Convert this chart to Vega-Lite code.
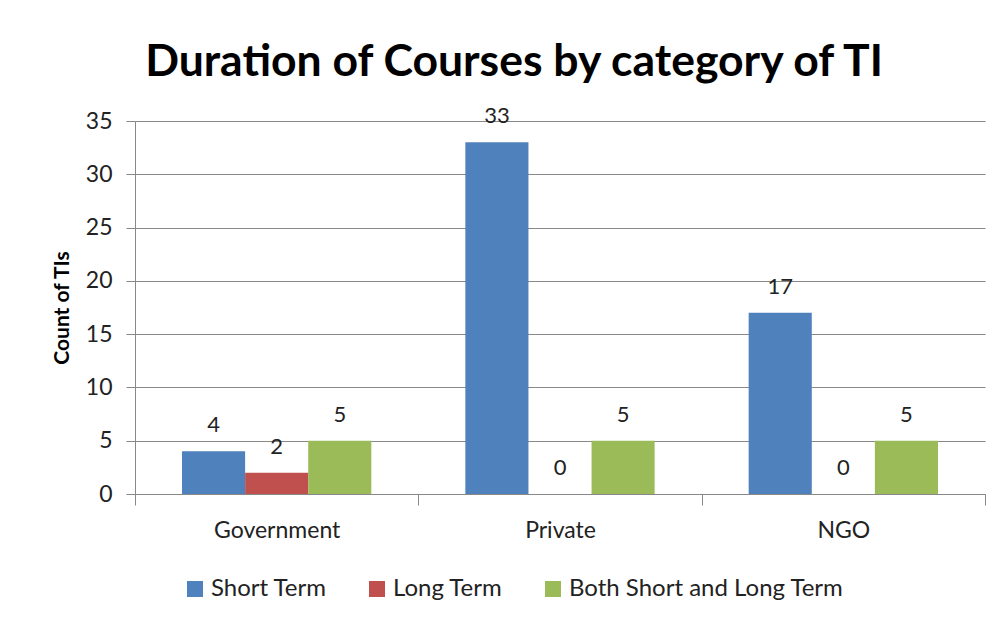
{
  "$schema": "https://vega.github.io/schema/vega-lite/v6.json",
  "autosize": {"type": "none"},
  "width": 850,
  "height": 373,
  "padding": {"left": 135, "top": 121, "right": 20, "bottom": 124},
  "background": "white",
  "title": {
    "text": "Duration of Courses by category of TI",
    "font": "Lato",
    "fontSize": 44.5,
    "fontWeight": "bold",
    "color": "#000000",
    "anchor": "middle",
    "dx": -46,
    "offset": 20
  },
  "data": {
    "values": [
      {"category": "Government", "duration": "Short Term", "count": 4},
      {"category": "Government", "duration": "Long Term", "count": 2},
      {"category": "Government", "duration": "Both Short and Long Term", "count": 5},
      {"category": "Private", "duration": "Short Term", "count": 33},
      {"category": "Private", "duration": "Long Term", "count": 0},
      {"category": "Private", "duration": "Both Short and Long Term", "count": 5},
      {"category": "NGO", "duration": "Short Term", "count": 17},
      {"category": "NGO", "duration": "Long Term", "count": 0},
      {"category": "NGO", "duration": "Both Short and Long Term", "count": 5}
    ]
  },
  "encoding": {
    "x": {
      "field": "category",
      "type": "nominal",
      "sort": ["Government", "Private", "NGO"],
      "scale": {"paddingInner": 0, "paddingOuter": 0},
      "axis": {
        "title": null,
        "labelAngle": 0,
        "labelFont": "Lato",
        "labelFontSize": 23,
        "labelColor": "#222222",
        "labelPadding": 14,
        "tickBand": "extent",
        "tickSize": 11,
        "tickColor": "#888888",
        "domainColor": "#888888",
        "grid": false
      }
    },
    "xOffset": {
      "field": "duration",
      "type": "nominal",
      "sort": ["Short Term", "Long Term", "Both Short and Long Term"],
      "scale": {"paddingInner": 0, "paddingOuter": 0.745}
    },
    "y": {
      "field": "count",
      "type": "quantitative",
      "scale": {"domain": [0, 35]},
      "axis": {
        "title": "Count of TIs",
        "titleFont": "Lato",
        "titleFontSize": 21,
        "titleFontWeight": "bold",
        "titleColor": "#000000",
        "titlePadding": 13,
        "values": [0, 5, 10, 15, 20, 25, 30, 35],
        "labelFont": "Lato",
        "labelFontSize": 23,
        "labelColor": "#222222",
        "labelPadding": 14,
        "tickSize": 9,
        "tickColor": "#888888",
        "domainColor": "#888888",
        "gridColor": "#888888",
        "gridWidth": 1
      }
    }
  },
  "layer": [
    {
      "mark": {"type": "bar"},
      "encoding": {
        "color": {
          "field": "duration",
          "type": "nominal",
          "sort": ["Short Term", "Long Term", "Both Short and Long Term"],
          "scale": {
            "domain": ["Short Term", "Long Term", "Both Short and Long Term"],
            "range": ["#4F81BD", "#C0504D", "#9BBB59"]
          },
          "legend": {
            "title": null,
            "orient": "none",
            "legendX": 48,
            "legendY": 456,
            "direction": "horizontal",
            "symbolType": "square",
            "symbolSize": 256,
            "symbolStrokeWidth": 0,
            "labelFont": "Lato",
            "labelFontSize": 24,
            "labelColor": "#222222",
            "labelLimit": 0,
            "labelOffset": 4,
            "columnPadding": 38
          }
        }
      }
    },
    {
      "mark": {"type": "text", "baseline": "alphabetic", "dy": -19, "font": "Lato", "fontSize": 22, "color": "#222222"},
      "encoding": {
        "text": {"field": "count", "type": "quantitative"}
      }
    }
  ],
  "config": {
    "view": {"stroke": null}
  }
}
